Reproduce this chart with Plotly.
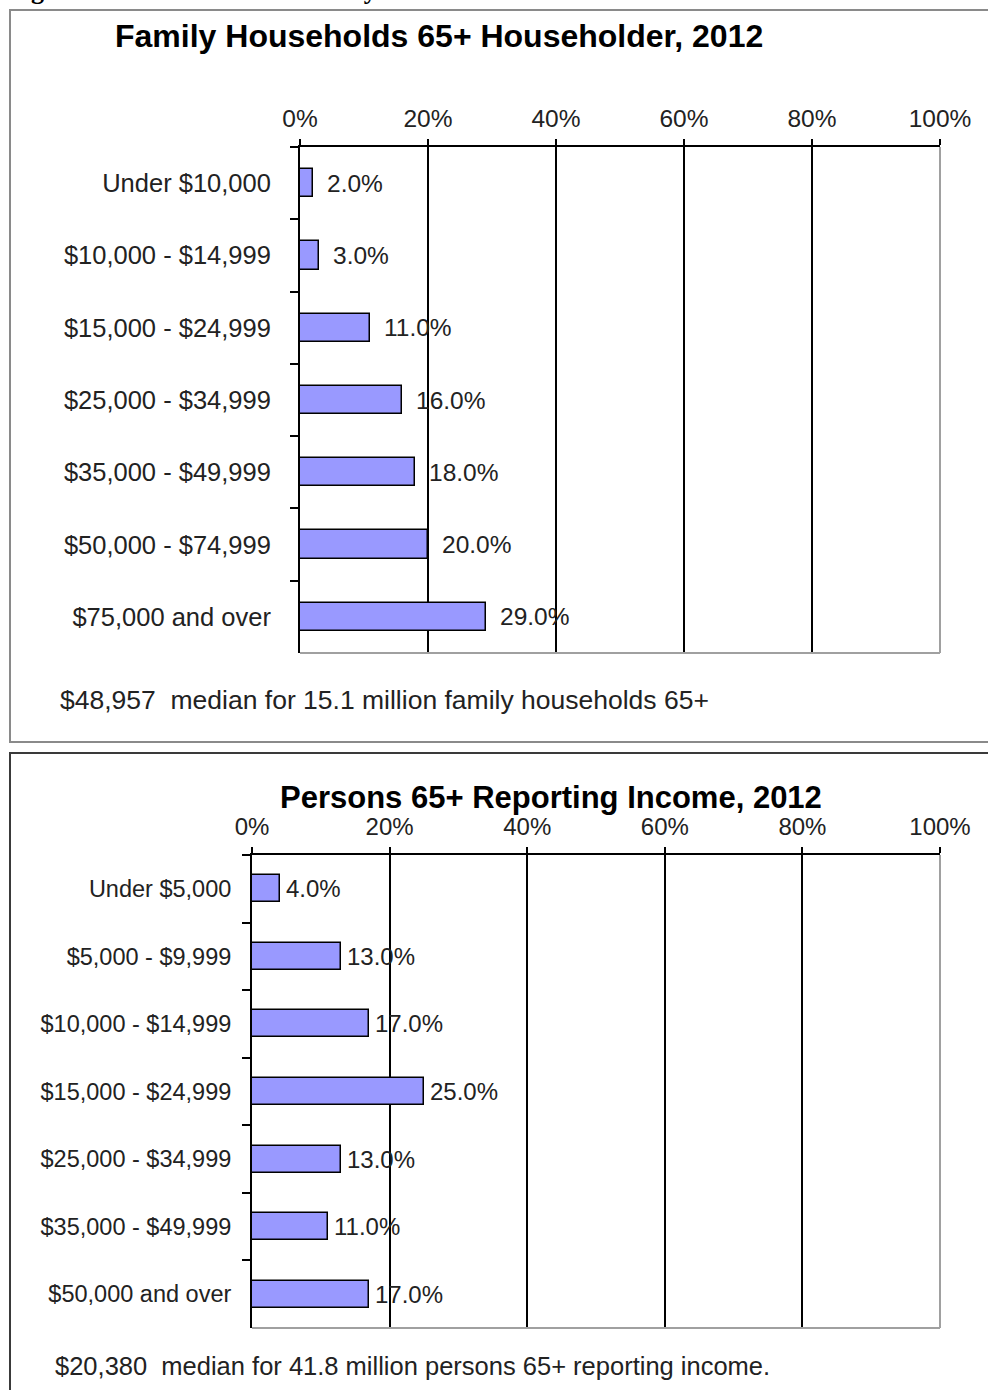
import plotly.graph_objects as go

W, H = 988, 1390

cats1 = ["Under $10,000", "$10,000 - $14,999", "$15,000 - $24,999", "$25,000 - $34,999",
         "$35,000 - $49,999", "$50,000 - $74,999", "$75,000 and over"]
vals1 = [2.0, 3.0, 11.0, 16.0, 18.0, 20.0, 29.0]

cats2 = ["Under $5,000", "$5,000 - $9,999", "$10,000 - $14,999", "$15,000 - $24,999",
         "$25,000 - $34,999", "$35,000 - $49,999", "$50,000 and over"]
vals2 = [4.0, 13.0, 17.0, 25.0, 13.0, 11.0, 17.0]

tick_vals = [0, 20, 40, 60, 80, 100]
tick_text = ["0%", "20%", "40%", "60%", "80%", "100%"]

fig_caption = "Figure 4: Percent Distribution by Income: 2012"
title1 = "Family Households 65+ Householder, 2012"
title2 = "Persons 65+ Reporting Income, 2012"
note1 = "$48,957  median for 15.1 million family households 65+"
note2 = "$20,380  median for 41.8 million persons 65+ reporting income."

FONT = "Liberation Sans, Arial, sans-serif"
BAR = "#9999FF"
TXT = "#222"

def px_x(p):
    return p / W

def px_y(p):
    return 1 - p / H

fig = go.Figure()
fig.add_trace(go.Bar(x=vals1, y=cats1, orientation="h", xaxis="x", yaxis="y",
                     marker=dict(color=BAR, line=dict(color="black", width=1.5)),
                     width=0.39, hoverinfo="skip"))
fig.add_trace(go.Bar(x=vals2, y=cats2, orientation="h", xaxis="x2", yaxis="y2",
                     marker=dict(color=BAR, line=dict(color="black", width=1.5)),
                     width=0.40, hoverinfo="skip"))

xcommon = dict(range=[0, 100], side="top", tickvals=tick_vals, ticktext=tick_text,
               showgrid=True, gridcolor="black", gridwidth=1.5,
               showline=True, linecolor="black", linewidth=2,
               ticks="outside", ticklen=6, tickcolor="black", tickwidth=2,
               zeroline=False, fixedrange=True, automargin=False, ticklabelstandoff=2)
ycommon = dict(autorange="reversed", type="category",
               showline=True, linecolor="black", linewidth=2,
               ticks="outside", ticklen=8, tickcolor="black", tickwidth=2,
               tickson="boundaries", showgrid=False, fixedrange=True, automargin=False)

fig.update_layout(
    width=W, height=H, margin=dict(l=0, r=0, t=0, b=0, autoexpand=False),
    paper_bgcolor="white", plot_bgcolor="white", showlegend=False, bargap=0,
    xaxis=dict(domain=[px_x(300), px_x(940)], anchor="y",
               tickfont=dict(family=FONT, size=24.5, color=TXT), **xcommon),
    yaxis=dict(domain=[px_y(653), px_y(147)], anchor="x",
               tickfont=dict(family=FONT, size=25.5, color=TXT), ticklabelstandoff=22, **ycommon),
    xaxis2=dict(domain=[px_x(252), px_x(940)], anchor="y2",
                tickfont=dict(family=FONT, size=24, color=TXT), **xcommon),
    yaxis2=dict(domain=[px_y(1328), px_y(855)], anchor="x2",
                tickfont=dict(family=FONT, size=23.5, color=TXT), ticklabelstandoff=14, **ycommon),
)

ann = []
for c, v in zip(cats1, vals1):
    ann.append(dict(x=v, y=c, xref="x", yref="y", text=f"{v:.1f}%", showarrow=False,
                    xanchor="left", xshift=12, font=dict(family=FONT, size=24.5, color=TXT)))
for c, v in zip(cats2, vals2):
    ann.append(dict(x=v, y=c, xref="x2", yref="y2", text=f"{v:.1f}%", showarrow=False,
                    xanchor="left", xshift=4, font=dict(family=FONT, size=24, color=TXT)))

ann.append(dict(x=px_x(6), y=px_y(-9), xref="paper", yref="paper", text=f"<b>{fig_caption}</b>",
                showarrow=False, xanchor="left", yanchor="middle",
                font=dict(family="Liberation Serif, Times New Roman, serif", size=26, color="black")))
ann.append(dict(x=px_x(439), y=px_y(36), xref="paper", yref="paper", text=f"<b>{title1}</b>",
                showarrow=False, xanchor="center", yanchor="middle",
                font=dict(family=FONT, size=32, color="black")))
ann.append(dict(x=px_x(551), y=px_y(797), xref="paper", yref="paper", text=f"<b>{title2}</b>",
                showarrow=False, xanchor="center", yanchor="middle",
                font=dict(family=FONT, size=31, color="black")))
ann.append(dict(x=px_x(58), y=px_y(700), xref="paper", yref="paper", text=note1,
                showarrow=False, xanchor="left", yanchor="middle",
                font=dict(family=FONT, size=26.5, color=TXT)))
ann.append(dict(x=px_x(53), y=px_y(1366), xref="paper", yref="paper", text=note2,
                showarrow=False, xanchor="left", yanchor="middle",
                font=dict(family=FONT, size=25.5, color=TXT)))
fig.update_layout(annotations=ann)

shapes = [
    dict(type="rect", xref="paper", yref="paper", x0=px_x(10), x1=px_x(1000), y0=px_y(742), y1=px_y(10),
         line=dict(color="#8a8a8a", width=2), layer="below"),
    dict(type="rect", xref="paper", yref="paper", x0=px_x(10), x1=px_x(1000), y0=px_y(1400), y1=px_y(753),
         line=dict(color="#3a3a3a", width=2), layer="below"),
    dict(type="line", xref="x domain", yref="y domain", x0=1, x1=1, y0=0, y1=1,
         line=dict(color="#a0a0a0", width=2), layer="above"),
    dict(type="line", xref="x domain", yref="y domain", x0=0, x1=1, y0=0, y1=0,
         line=dict(color="#a0a0a0", width=2), layer="above"),
    dict(type="line", xref="x2 domain", yref="y2 domain", x0=1, x1=1, y0=0, y1=1,
         line=dict(color="#a0a0a0", width=2), layer="above"),
    dict(type="line", xref="x2 domain", yref="y2 domain", x0=0, x1=1, y0=0, y1=0,
         line=dict(color="#a0a0a0", width=2), layer="above"),
]
fig.update_layout(shapes=shapes)

fig.write_html("out.html", config={"displayModeBar": False},
               post_script="document.body.style.margin='0';")
